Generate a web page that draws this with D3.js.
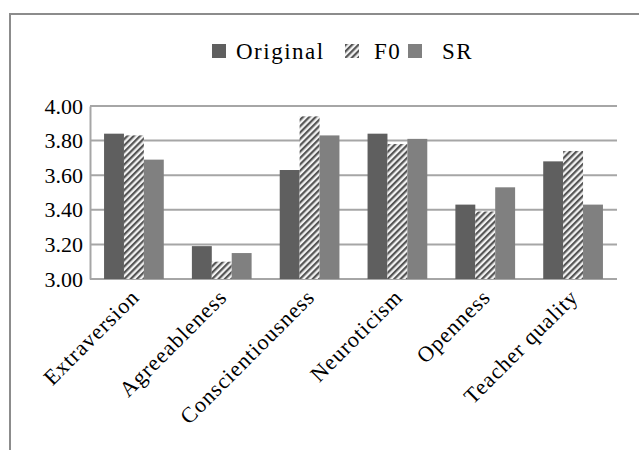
<!DOCTYPE html>
<html>
<head>
<meta charset="utf-8">
<script src="https://cdn.jsdelivr.net/npm/d3@7"></script>
<style>
  body { margin: 0; background: #fff; }
  text { font-family: "Liberation Serif", "Times New Roman", serif; fill: #000; }
</style>
</head>
<body>
<svg id="chart" width="639" height="450"></svg>
<script>
// data
let categories = ["Extraversion", "Agreeableness", "Conscientiousness", "Neuroticism", "Openness", "Teacher quality"];
let series = ["Original", "F0", "SR"];
let original = [3.84, 3.19, 3.63, 3.84, 3.43, 3.68];
let f0 = [3.83, 3.10, 3.94, 3.78, 3.39, 3.74];
let sr = [3.69, 3.15, 3.83, 3.81, 3.53, 3.43];
let yTicks = [3.0, 3.2, 3.4, 3.6, 3.8, 4.0];

let values = { "Original": original, "F0": f0, "SR": sr };
let rows = categories.map((c, i) => ({
  category: c,
  bars: series.map(s => ({ key: s, value: values[s][i] }))
}));

let svg = d3.select("#chart");

// hatch for F0
let defs = svg.append("defs");
let pat = defs.append("pattern")
  .attr("id", "hatch")
  .attr("patternUnits", "userSpaceOnUse")
  .attr("width", 4.5)
  .attr("height", 4.5)
  .attr("patternTransform", "rotate(45)");
pat.append("rect").attr("width", 4.5).attr("height", 4.5).attr("fill", "#f2f2f2");
pat.append("rect").attr("width", 2.2).attr("height", 4.5).attr("fill", "#555");

let fills = { "Original": "#5f5f5f", "F0": "url(#hatch)", "SR": "#808080" };

// outer frame (right and bottom edges are outside the picture)
svg.append("rect")
  .attr("x", 10).attr("y", 14)
  .attr("width", 700).attr("height", 500)
  .attr("fill", "none")
  .attr("stroke", "#8c8c8c")
  .attr("stroke-width", 2);

let plotL = 90, plotR = 617, plotT = 106, plotB = 279;

// scales
let y = d3.scaleLinear().domain([3, 4]).range([plotB, plotT]);
let x0 = d3.scaleBand().domain(categories).range([plotL, plotR]);
let groupW = x0.bandwidth() * 0.68;
let x1 = d3.scaleBand().domain(series)
  .range([(x0.bandwidth() - groupW) / 2, (x0.bandwidth() + groupW) / 2]);

// gridlines
svg.append("g")
  .selectAll("line")
  .data(yTicks)
  .join("line")
  .attr("x1", plotL).attr("x2", plotR)
  .attr("y1", d => y(d)).attr("y2", d => y(d))
  .attr("stroke", "#a6a6a6")
  .attr("stroke-width", 2);

// bars
svg.append("g")
  .selectAll("g")
  .data(rows)
  .join("g")
  .attr("transform", d => `translate(${x0(d.category)},0)`)
  .selectAll("rect")
  .data(d => d.bars)
  .join("rect")
  .attr("x", d => x1(d.key))
  .attr("width", x1.bandwidth())
  .attr("y", d => y(d.value))
  .attr("height", d => y(3) - y(d.value))
  .attr("fill", d => fills[d.key]);

// y axis
let yAxis = svg.append("g")
  .attr("transform", `translate(${plotL},0)`)
  .call(d3.axisLeft(y).tickValues(yTicks).tickFormat(d3.format(".2f")).tickSize(0).tickPadding(7));
yAxis.select(".domain").attr("stroke", "#a6a6a6").attr("stroke-width", 2);
yAxis.selectAll("text")
  .style("font-family", '"Liberation Serif", serif')
  .style("font-size", "22px")
  .attr("fill", "#000");

// x axis labels
let xAxis = svg.append("g")
  .attr("transform", `translate(0,${plotB})`)
  .call(d3.axisBottom(x0).tickSize(0));
xAxis.select(".domain").remove();
xAxis.selectAll("text")
  .style("font-family", '"Liberation Serif", serif')
  .style("font-size", "22px")
  .style("letter-spacing", "1px")
  .attr("fill", "#000")
  .attr("text-anchor", "end")
  .attr("y", 0)
  .attr("dy", "0.35em")
  .attr("transform", "translate(1,14) rotate(-45)");

// legend
let legendX = { "Original": 212, "F0": 345, "SR": 408 };
let legend = svg.append("g")
  .selectAll("g")
  .data(series)
  .join("g")
  .attr("transform", d => `translate(${legendX[d]},44)`);
legend.append("rect")
  .attr("width", 14).attr("height", 14)
  .attr("fill", d => fills[d]);
legend.append("text")
  .attr("x", d => d === "F0" ? 29 : d === "SR" ? 34 : 24)
  .attr("y", 7)
  .attr("dy", "0.35em")
  .style("font-family", '"Liberation Serif", serif')
  .style("font-size", "23px")
  .style("letter-spacing", "1.5px")
  .text(d => d);
</script>
</body>
</html>
